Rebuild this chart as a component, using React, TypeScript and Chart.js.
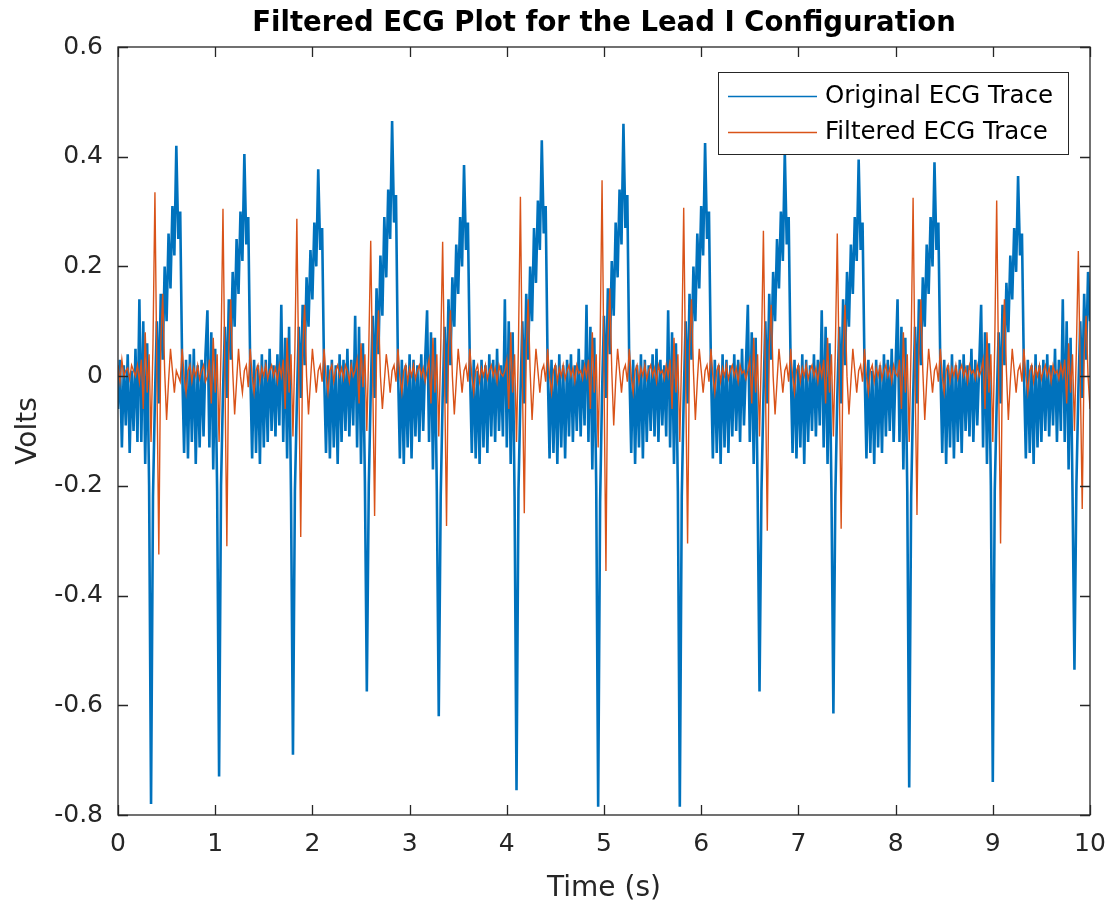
import React, { useEffect, useRef } from "react";
import { Chart, registerables } from "chart.js";

Chart.register(...registerables);

const sampleInterval = 0.02; // seconds between samples

const chartTitle = "Filtered ECG Plot for the Lead I Configuration";
const xAxisTitle = "Time (s)";
const yAxisTitle = "Volts";
const seriesLabels = ["Original ECG Trace", "Filtered ECG Trace"];
const seriesColors = ["#0072BD", "#D95319"];

const xTickValues = [0, 1, 2, 3, 4, 5, 6, 7, 8, 9, 10];
const xTickLabels = ["0", "1", "2", "3", "4", "5", "6", "7", "8", "9", "10"];
const yTickValues = [-0.8, -0.6, -0.4, -0.2, 0, 0.2, 0.4, 0.6];
const yTickLabels = ["-0.8", "-0.6", "-0.4", "-0.2", "0", "0.2", "0.4", "0.6"];

// Original ECG trace, volts, sampled every 0.02 s from 0 to 10 s
const originalEcg = [
  -0.06, 0.03, -0.13, 0.02, -0.09, 0.04, -0.14, 0.01, -0.10, 0.05,
  -0.12, 0.14, -0.12, 0.10, -0.16, 0.06, -0.20, -0.78, -0.22, -0.04,
  0.10, -0.05, 0.15, 0.03, 0.20, 0.10, 0.26, 0.16, 0.31, 0.22,
  0.42, 0.25, 0.30, 0.02, -0.14, 0.03, -0.15, 0.04, -0.12, 0.05,
  -0.16, 0.02, -0.13, 0.03, -0.11, 0.04, 0.12, -0.13, 0.08, -0.17,
  0.05, -0.21, -0.73, -0.20, -0.03, 0.09, -0.04, 0.14, 0.03, 0.19,
  0.09, 0.25, 0.15, 0.30, 0.21, 0.405, 0.24, 0.29, 0.02, -0.15,
  0.03, -0.14, 0.02, -0.16, 0.04, -0.13, 0.03, -0.12, 0.05, -0.10,
  0.02, -0.11, 0.04, -0.09, 0.13, -0.12, 0.07, -0.15, 0.09, -0.22,
  -0.69, -0.21, -0.05, 0.09, -0.04, 0.13, 0.02, 0.18, 0.09, 0.23,
  0.14, 0.28, 0.20, 0.377, 0.23, 0.27, 0.01, -0.14, 0.02, -0.15,
  0.03, -0.13, 0.02, -0.16, 0.04, -0.12, 0.03, -0.10, 0.05, -0.11,
  0.03, -0.09, 0.11, -0.13, 0.09, -0.16, 0.06, -0.19, -0.575, -0.20,
  -0.03, 0.11, -0.04, 0.16, 0.04, 0.22, 0.11, 0.29, 0.18, 0.34,
  0.25, 0.465, 0.28, 0.33, 0.02, -0.15, 0.03, -0.16, 0.02, -0.13,
  0.04, -0.15, 0.03, -0.11, 0.02, -0.12, 0.04, -0.10, 0.03, 0.12,
  -0.12, 0.08, -0.17, 0.07, -0.21, -0.62, -0.22, -0.04, 0.09, -0.05,
  0.14, 0.02, 0.18, 0.09, 0.24, 0.15, 0.29, 0.20, 0.385, 0.23,
  0.28, 0.02, -0.14, 0.03, -0.15, 0.01, -0.16, 0.03, -0.13, 0.02,
  -0.14, 0.04, -0.11, 0.03, -0.12, 0.05, -0.10, 0.02, -0.11, 0.14,
  -0.13, 0.10, -0.16, 0.08, -0.22, -0.755, -0.21, -0.04, 0.10, -0.05,
  0.15, 0.03, 0.20, 0.10, 0.27, 0.17, 0.32, 0.23, 0.43, 0.26,
  0.31, 0.02, -0.15, 0.03, -0.14, 0.02, -0.16, 0.04, -0.13, 0.02,
  -0.15, 0.03, -0.11, 0.04, -0.12, 0.02, -0.10, 0.05, -0.11, 0.03,
  -0.09, 0.13, -0.12, 0.09, -0.17, 0.07, -0.20, -0.785, -0.23, -0.03,
  0.11, -0.04, 0.16, 0.04, 0.21, 0.11, 0.28, 0.18, 0.34, 0.24,
  0.46, 0.27, 0.33, 0.02, -0.14, 0.03, -0.16, 0.02, -0.13, 0.04,
  -0.15, 0.03, -0.12, 0.02, -0.10, 0.04, -0.11, 0.05, -0.12, 0.03,
  -0.09, 0.02, -0.11, 0.12, -0.13, 0.08, -0.16, 0.06, -0.21, -0.785,
  -0.22, -0.04, 0.10, -0.05, 0.15, 0.03, 0.20, 0.10, 0.26, 0.16,
  0.31, 0.22, 0.425, 0.25, 0.30, 0.02, -0.15, 0.03, -0.14, 0.02,
  -0.16, 0.04, -0.13, 0.03, -0.14, 0.02, -0.11, 0.04, -0.10, 0.03,
  -0.12, 0.05, -0.09, 0.02, 0.13, -0.12, 0.08, -0.16, 0.07, -0.20,
  -0.575, -0.21, -0.04, 0.10, -0.05, 0.15, 0.03, 0.19, 0.10, 0.25,
  0.16, 0.30, 0.21, 0.41, 0.24, 0.29, 0.02, -0.14, 0.03, -0.15,
  0.02, -0.13, 0.04, -0.16, 0.03, -0.12, 0.02, -0.10, 0.04, -0.11,
  0.03, -0.09, 0.12, -0.13, 0.09, -0.16, 0.06, -0.21, -0.615, -0.22,
  -0.04, 0.09, -0.05, 0.14, 0.02, 0.19, 0.09, 0.24, 0.15, 0.29,
  0.21, 0.395, 0.23, 0.28, 0.02, -0.15, 0.03, -0.14, 0.01, -0.16,
  0.03, -0.13, 0.02, -0.14, 0.04, -0.11, 0.03, -0.10, 0.05, -0.12,
  0.02, 0.14, -0.12, 0.09, -0.17, 0.07, -0.21, -0.75, -0.22, -0.04,
  0.09, -0.05, 0.14, 0.02, 0.18, 0.09, 0.24, 0.15, 0.29, 0.20,
  0.39, 0.23, 0.28, 0.02, -0.14, 0.03, -0.16, 0.02, -0.13, 0.04,
  -0.15, 0.02, -0.12, 0.03, -0.14, 0.04, -0.10, 0.02, -0.11, 0.05,
  -0.12, 0.03, -0.09, 0.02, 0.13, -0.13, 0.08, -0.16, 0.06, -0.20,
  -0.74, -0.21, -0.05, 0.08, -0.05, 0.13, 0.02, 0.17, 0.08, 0.22,
  0.14, 0.27, 0.19, 0.365, 0.22, 0.26, 0.01, -0.15, 0.03, -0.14,
  0.02, -0.16, 0.04, -0.13, 0.02, -0.12, 0.03, -0.10, 0.04, -0.11,
  0.02, -0.09, 0.05, -0.12, 0.03, -0.10, 0.14, -0.12, 0.10, -0.17,
  0.07, -0.21, -0.535, -0.20, -0.03, 0.10, -0.04, 0.15, 0.03, 0.19,
  0.10,
];

// Filtered ECG trace, volts, same sampling
const filteredEcg = [
  0.02, -0.01, 0.03, 0.0, 0.01, 0.015, -0.005, 0.02, 0.01, 0.0,
  0.02, -0.01, 0.03, -0.06, 0.08, -0.03, 0.04, -0.12, 0.06, 0.335,
  0.0, -0.325, 0.06, 0.15, 0.01, -0.08, -0.01, 0.05, 0.01, -0.03,
  0.01, 0.0, -0.01, 0.05, 0.0, -0.03, 0.01, 0.02, -0.01, 0.015,
  0.0, 0.02, -0.005, 0.01, 0.02, -0.01, 0.0, 0.03, -0.05, 0.07,
  -0.03, 0.04, -0.12, 0.05, 0.305, 0.0, -0.31, 0.05, 0.14, 0.01,
  -0.07, -0.01, 0.05, 0.0, -0.03, 0.01, 0.02, -0.02, 0.05, 0.0,
  -0.03, 0.01, 0.02, -0.01, 0.015, 0.0, 0.02, -0.005, 0.01, 0.02,
  0.0, 0.015, -0.01, 0.02, 0.0, 0.03, -0.06, 0.07, -0.03, 0.04,
  -0.11, 0.05, 0.287, 0.0, -0.293, 0.05, 0.13, 0.0, -0.07, -0.01,
  0.05, 0.01, -0.03, 0.01, 0.02, -0.01, 0.05, 0.0, -0.03, 0.01,
  0.02, -0.01, 0.01, 0.02, 0.0, 0.015, -0.005, 0.02, 0.01, -0.01,
  0.02, 0.0, 0.01, 0.03, -0.05, 0.06, -0.02, 0.04, -0.10, 0.05,
  0.247, 0.0, -0.255, 0.04, 0.12, 0.0, -0.06, -0.01, 0.04, 0.01,
  -0.03, 0.01, 0.02, -0.01, 0.05, 0.0, -0.03, 0.01, 0.02, -0.01,
  0.015, 0.0, 0.02, -0.005, 0.01, 0.02, 0.0, 0.015, -0.01, 0.01,
  0.03, -0.05, 0.07, -0.03, 0.04, -0.11, 0.05, 0.245, 0.0, -0.273,
  0.05, 0.12, 0.0, -0.07, -0.01, 0.05, 0.01, -0.03, 0.01, 0.02,
  -0.01, 0.05, 0.0, -0.03, 0.01, 0.02, -0.01, 0.015, 0.0, 0.02,
  -0.005, 0.01, 0.02, 0.0, 0.015, -0.01, 0.02, 0.005, 0.0, 0.01,
  0.03, -0.06, 0.08, -0.03, 0.04, -0.12, 0.06, 0.327, 0.0, -0.25,
  0.05, 0.14, 0.01, -0.08, -0.01, 0.05, 0.01, -0.03, 0.01, 0.02,
  -0.01, 0.05, 0.0, -0.03, 0.01, 0.02, -0.01, 0.015, 0.0, 0.02,
  -0.005, 0.01, 0.02, 0.0, 0.015, -0.01, 0.02, 0.005, 0.01, -0.005,
  0.02, 0.0, 0.03, -0.06, 0.08, -0.03, 0.04, -0.13, 0.06, 0.357,
  0.0, -0.355, 0.06, 0.16, 0.01, -0.09, -0.01, 0.05, 0.01, -0.03,
  0.01, 0.02, -0.01, 0.05, 0.0, -0.03, 0.01, 0.02, -0.01, 0.015,
  0.0, 0.02, -0.005, 0.01, 0.02, 0.0, 0.015, -0.01, 0.02, 0.005,
  0.01, -0.005, 0.02, 0.0, 0.03, -0.06, 0.07, -0.03, 0.04, -0.12,
  0.05, 0.307, 0.0, -0.305, 0.05, 0.14, 0.01, -0.08, -0.01, 0.05,
  0.01, -0.03, 0.01, 0.02, -0.01, 0.05, 0.0, -0.03, 0.01, 0.02,
  -0.01, 0.015, 0.0, 0.02, -0.005, 0.01, 0.02, 0.0, 0.015, -0.01,
  0.02, 0.005, 0.01, -0.005, 0.01, 0.03, -0.05, 0.07, -0.03, 0.04,
  -0.11, 0.05, 0.265, 0.0, -0.282, 0.05, 0.13, 0.0, -0.07, -0.01,
  0.05, 0.01, -0.03, 0.01, 0.02, -0.01, 0.05, 0.0, -0.03, 0.01,
  0.02, -0.01, 0.015, 0.0, 0.02, -0.005, 0.01, 0.02, 0.0, 0.015,
  -0.01, 0.02, 0.0, 0.03, -0.05, 0.07, -0.03, 0.04, -0.11, 0.05,
  0.26, 0.0, -0.278, 0.05, 0.13, 0.0, -0.07, -0.01, 0.05, 0.01,
  -0.03, 0.01, 0.02, -0.01, 0.05, 0.0, -0.03, 0.01, 0.02, -0.01,
  0.015, 0.0, 0.02, -0.005, 0.01, 0.02, 0.0, 0.015, -0.01, 0.02,
  0.005, 0.0, 0.03, -0.06, 0.08, -0.03, 0.04, -0.12, 0.06, 0.325,
  0.0, -0.253, 0.05, 0.14, 0.01, -0.08, -0.01, 0.05, 0.01, -0.03,
  0.01, 0.02, -0.01, 0.05, 0.0, -0.03, 0.01, 0.02, -0.01, 0.015,
  0.0, 0.02, -0.005, 0.01, 0.02, 0.0, 0.015, -0.01, 0.02, 0.005,
  0.01, -0.005, 0.02, 0.0, 0.01, 0.03, -0.06, 0.08, -0.03, 0.04,
  -0.12, 0.06, 0.32, 0.0, -0.305, 0.05, 0.14, 0.01, -0.08, -0.01,
  0.05, 0.01, -0.03, 0.01, 0.02, -0.01, 0.05, 0.0, -0.03, 0.01,
  0.02, -0.01, 0.015, 0.0, 0.02, -0.005, 0.01, 0.02, 0.0, 0.015,
  -0.01, 0.02, 0.005, 0.01, -0.005, 0.02, 0.0, 0.03, -0.05, 0.06,
  -0.03, 0.04, -0.10, 0.05, 0.228, 0.0, -0.242, 0.04, 0.11, 0.0,
  -0.06,
];

const axisColor = "#262626";
const tickFont = "DejaVu Sans";

const matlabBoxPlugin = {
  id: "matlabBox",
  afterDraw(chart: any) {
    const { ctx, chartArea: a, scales } = chart;
    ctx.save();
    ctx.strokeStyle = axisColor;
    ctx.lineWidth = 1.3;
    ctx.strokeRect(a.left, a.top, a.right - a.left, a.bottom - a.top);
    const tickLen = 10;
    ctx.beginPath();
    xTickValues.forEach((v) => {
      const x = Math.round(scales.x.getPixelForValue(v)) + 0.5;
      ctx.moveTo(x, a.bottom);
      ctx.lineTo(x, a.bottom - tickLen);
      ctx.moveTo(x, a.top);
      ctx.lineTo(x, a.top + tickLen);
    });
    yTickValues.forEach((v) => {
      const y = Math.round(scales.y.getPixelForValue(v)) + 0.5;
      ctx.moveTo(a.left, y);
      ctx.lineTo(a.left + tickLen, y);
      ctx.moveTo(a.right, y);
      ctx.lineTo(a.right - tickLen, y);
    });
    ctx.stroke();

    // legend
    const lx = 718.5, ly = 72.5, lw = 350, lh = 82;
    ctx.fillStyle = "#ffffff";
    ctx.fillRect(lx, ly, lw, lh);
    ctx.lineWidth = 1;
    ctx.strokeStyle = axisColor;
    ctx.strokeRect(lx, ly, lw, lh);
    const rows = [96, 132];
    ctx.font = `24.5px "${tickFont}"`;
    ctx.textBaseline = "middle";
    ctx.textAlign = "left";
    seriesLabels.forEach((label, i) => {
      ctx.strokeStyle = seriesColors[i];
      ctx.lineWidth = 1.3;
      ctx.beginPath();
      ctx.moveTo(728, rows[i] + 0.5);
      ctx.lineTo(817, rows[i] + 0.5);
      ctx.stroke();
      ctx.fillStyle = "#000000";
      ctx.fillText(label, 825, rows[i] + 1);
    });
    ctx.restore();
  },
};

export default function App() {
  const canvasRef = useRef<HTMLCanvasElement | null>(null);

  useEffect(() => {
    if (!canvasRef.current) return;
    const toPoints = (vals: number[]) =>
      vals.map((v, i) => ({ x: i * sampleInterval, y: v }));

    const chart = new Chart(canvasRef.current, {
      type: "line",
      data: {
        datasets: [
          {
            label: seriesLabels[0],
            data: toPoints(originalEcg),
            borderColor: seriesColors[0],
            borderWidth: 2.6,
            pointRadius: 0,
            tension: 0,
            order: 2,
          },
          {
            label: seriesLabels[1],
            data: toPoints(filteredEcg),
            borderColor: seriesColors[1],
            borderWidth: 1.4,
            pointRadius: 0,
            tension: 0,
            order: 1,
          },
        ],
      },
      options: {
        animation: false,
        responsive: false,
        devicePixelRatio: 1,
        parsing: false as any,
        normalized: true,
        layout: { padding: { left: 0, right: 20, top: 0, bottom: 0 } },
        plugins: {
          legend: { display: false },
          tooltip: { enabled: false },
          title: {
            display: true,
            fullSize: false,
            text: chartTitle,
            color: "#000000",
            font: { family: tickFont, size: 27.5, weight: "bold" },
            padding: { top: 7, bottom: 7 },
          },
        },
        scales: {
          x: {
            type: "linear",
            min: 0,
            max: 10,
            grid: { display: false, drawTicks: false },
            border: { display: false },
            afterBuildTicks: (scale: any) => {
              scale.ticks = xTickValues.map((v) => ({ value: v }));
            },
            afterFit: (scale: any) => {
              scale.height = 92;
              scale.paddingLeft = 0;
              scale.paddingRight = 0;
            },
            ticks: {
              autoSkip: false,
              maxRotation: 0,
              padding: 14,
              color: axisColor,
              font: { family: tickFont, size: 25 },
              callback: (_v: any, i: number) => xTickLabels[i],
            },
            title: {
              display: true,
              text: xAxisTitle,
              color: axisColor,
              font: { family: tickFont, size: 28 },
              padding: { top: 0, bottom: 1 },
            },
          },
          y: {
            type: "linear",
            min: -0.8,
            max: 0.6,
            grid: { display: false, drawTicks: false },
            border: { display: false },
            afterBuildTicks: (scale: any) => {
              scale.ticks = yTickValues.map((v) => ({ value: v }));
            },
            afterFit: (scale: any) => {
              scale.width = 118;
              scale.paddingTop = 0;
              scale.paddingBottom = 0;
            },
            ticks: {
              padding: 15,
              color: axisColor,
              font: { family: tickFont, size: 25 },
              callback: (_v: any, i: number) => yTickLabels[i],
            },
            title: {
              display: true,
              text: yAxisTitle,
              color: axisColor,
              font: { family: tickFont, size: 28 },
              padding: { top: 12, bottom: 0 },
            },
          },
        },
      },
      plugins: [matlabBoxPlugin],
    });
    return () => chart.destroy();
  }, []);

  return (
    <div style={{ position: "absolute", left: 0, top: 0, width: 1110, height: 907, background: "#ffffff" }}>
      <canvas ref={canvasRef} width={1110} height={907} style={{ display: "block" }} />
    </div>
  );
}
